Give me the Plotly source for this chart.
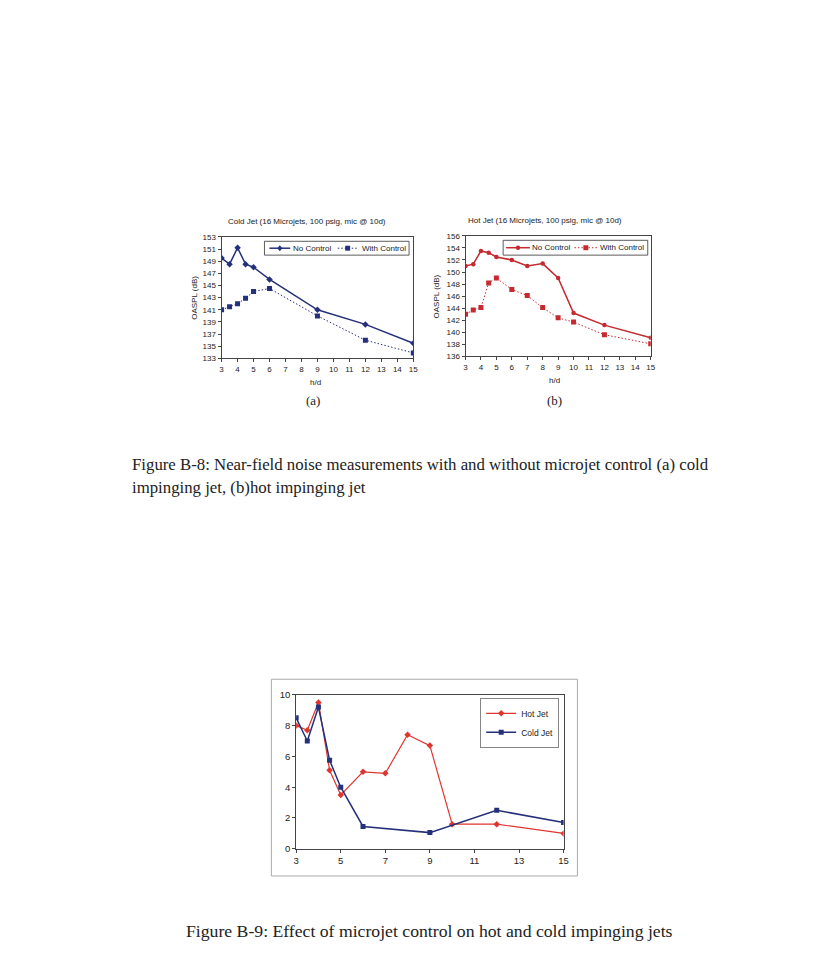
import plotly.graph_objects as go

W, H = 834, 966

# ---- data ----
hd_cold = [3, 3.5, 4, 4.5, 5, 6, 9, 12, 15]
cold_no_control = [149.5, 148.5, 151.2, 148.5, 148.0, 146.0, 141.0, 138.6, 135.5]
cold_with_control = [141.0, 141.5, 142.0, 142.9, 144.0, 144.5, 140.0, 136.0, 133.9]

hd_hot = [3, 3.5, 4, 4.5, 5, 6, 7, 8, 9, 10, 12, 15]
hot_no_control = [151.0, 151.3, 153.5, 153.2, 152.5, 152.0, 151.0, 151.4, 149.0, 143.2, 141.2, 139.1]
hot_with_control = [143.0, 143.7, 144.1, 148.2, 149.0, 147.1, 146.1, 144.1, 142.4, 141.7, 139.6, 138.1]

diff_hot = [8.0, 7.7, 9.5, 5.1, 3.5, 5.0, 4.9, 7.4, 6.7, 1.6, 1.6, 1.0]
diff_cold = [8.5, 7.0, 9.2, 5.75, 4.0, 1.45, 1.05, 2.5, 1.7]

yticks_a = list(range(133, 154, 2))
yticks_b = list(range(136, 157, 2))
xticks_ab = list(range(3, 16))
yticks_c = [0, 2, 4, 6, 8, 10]
xticks_c = [3, 5, 7, 9, 11, 13, 15]

NAVY = "#25307a"
RED = "#c42a2f"
HOTRED = "#e0352f"
DOTTED = "1.5px,2px"

def px(x):
    return x / W

def py(y):
    return 1 - y / H

fig = go.Figure()

# chart a
fig.add_trace(go.Scatter(x=hd_cold, y=cold_no_control, name="No Control", mode="lines+markers",
                         line=dict(color=NAVY, width=1.5), marker=dict(symbol="diamond", size=5, color=NAVY),
                         xaxis="x", yaxis="y", showlegend=False))
fig.add_trace(go.Scatter(x=hd_cold, y=cold_with_control, name="With Control", mode="lines+markers",
                         line=dict(color=NAVY, width=1, dash=DOTTED), marker=dict(symbol="square", size=5, color=NAVY),
                         xaxis="x", yaxis="y", showlegend=False))
# chart b
fig.add_trace(go.Scatter(x=hd_hot, y=hot_no_control, name="No Control", mode="lines+markers",
                         line=dict(color=RED, width=1.5), marker=dict(symbol="circle", size=4.5, color=RED),
                         xaxis="x2", yaxis="y2", showlegend=False))
fig.add_trace(go.Scatter(x=hd_hot, y=hot_with_control, name="With Control", mode="lines+markers",
                         line=dict(color=RED, width=1, dash=DOTTED), marker=dict(symbol="square", size=5, color=RED),
                         xaxis="x2", yaxis="y2", showlegend=False))
# chart c
fig.add_trace(go.Scatter(x=hd_hot, y=diff_hot, name="Hot Jet", mode="lines+markers",
                         line=dict(color=HOTRED, width=1.2), marker=dict(symbol="diamond", size=5, color=HOTRED),
                         xaxis="x3", yaxis="y3", legend="legend3"))
fig.add_trace(go.Scatter(x=hd_cold, y=diff_cold, name="Cold Jet", mode="lines+markers",
                         line=dict(color=NAVY, width=1.5), marker=dict(symbol="square", size=5, color=NAVY),
                         xaxis="x3", yaxis="y3", legend="legend3"))

tickfont_ab = dict(family="Liberation Sans, Arial", size=8, color="#222")
tickfont_c = dict(family="Liberation Sans, Arial", size=9.5, color="#222")

def ax(domain, rng, tickvals, font, anchor, lc="#444"):
    return dict(domain=domain, range=rng, tickvals=tickvals, tickfont=font, anchor=anchor,
                showgrid=False, zeroline=False, showline=True, linecolor=lc, linewidth=1,
                mirror=True, ticks="outside", ticklen=3, tickcolor=lc, fixedrange=True)

fig.update_layout(
    width=W, height=H, margin=dict(l=0, r=0, t=0, b=0),
    paper_bgcolor="white", plot_bgcolor="white",
    xaxis=ax([px(220.7), px(414.3)], [3, 15], xticks_ab, tickfont_ab, "y"),
    yaxis=ax([py(356.5), py(233.5)], [133, 153], yticks_a, tickfont_ab, "x"),
    xaxis2=ax([px(467), px(654)], [3, 15], xticks_ab, tickfont_ab, "y2"),
    yaxis2=ax([py(354.5), py(232.5)], [136, 156], yticks_b, tickfont_ab, "x2"),
    xaxis3=ax([px(296), px(566)], [3, 15], xticks_c, tickfont_c, "y3"),
    yaxis3=ax([py(852.5), py(696.7)], [0, 10], yticks_c, tickfont_c, "x3"),
    legend3=dict(x=px(482), y=py(700), xanchor="left", yanchor="top", orientation="v",
                 bordercolor="#666", borderwidth=0.8, bgcolor="white",
                 font=dict(family="Liberation Sans, Arial", size=8.5, color="#222"),
                 itemwidth=30, tracegroupgap=0),
    showlegend=True,
)

ann_font = dict(family="Liberation Sans, Arial", size=8, color="#222")
leg_font = dict(family="Liberation Sans, Arial", size=8, color="#222")
annots = [
    dict(x=px(307), y=py(218), text="Cold Jet (16 Microjets, 100 psig, mic @ 10d)", font=ann_font),
    dict(x=px(547), y=py(217), text="Hot Jet (16 Microjets, 100 psig, mic @ 10d)", font=ann_font),
    dict(x=px(194), y=py(295), text="OASPL (dB)", font=ann_font, textangle=-90),
    dict(x=px(438), y=py(294), text="OASPL (dB)", font=ann_font, textangle=-90),
    dict(x=px(316), y=py(381), text="h/d", font=ann_font),
    dict(x=px(557), y=py(379), text="h/d", font=ann_font),
    dict(x=px(313), y=py(399), text="(a)", font=dict(family="Liberation Serif", size=13, color="#222")),
    dict(x=px(557), y=py(399), text="(b)", font=dict(family="Liberation Serif", size=13, color="#222")),
    dict(x=px(128), y=py(464), text="Figure B-8: Near-field noise measurements with and without microjet control (a) cold",
         font=dict(family="Liberation Serif, Times New Roman", size=16.8, color="#222"), xanchor="left"),
    dict(x=px(128), y=py(487), text="impinging jet, (b)hot impinging jet",
         font=dict(family="Liberation Serif, Times New Roman", size=16.8, color="#222"), xanchor="left"),
    dict(x=px(183), y=py(936), text="Figure B-9: Effect of microjet control on hot and cold impinging jets",
         font=dict(family="Liberation Serif, Times New Roman", size=17.7, color="#222"), xanchor="left"),
]

shapes = []

def legend_box(x0, x1, y0, y1, color, entries, marker_shapes):
    """Compact Excel-style legend box (layout decoration) in pixel positions."""
    shapes.append(dict(type="rect", xref="paper", yref="paper", x0=px(x0), x1=px(x1), y0=py(y1), y1=py(y0),
                       line=dict(color="#333", width=0.8), fillcolor="white", layer="above"))
    yc = (y0 + y1) / 2
    for (sx0, sx1, dash, label_x, label), msym in zip(entries, marker_shapes):
        shapes.append(dict(type="line", xref="paper", yref="paper", x0=px(sx0), x1=px(sx1), y0=py(yc), y1=py(yc),
                           line=dict(color=color, width=1.5 if dash == "solid" else 1, dash=dash), layer="above"))
        mx = (sx0 + sx1) / 2
        r = 2.5
        if msym == "diamond":
            path = f"M {px(mx)},{py(yc - r - 0.5)} L {px(mx + r)},{py(yc)} L {px(mx)},{py(yc + r + 0.5)} L {px(mx - r)},{py(yc)} Z"
        elif msym == "circle":
            shapes.append(dict(type="circle", xref="paper", yref="paper", x0=px(mx - 2.2), x1=px(mx + 2.2),
                               y0=py(yc + 2.2), y1=py(yc - 2.2), fillcolor=color, line=dict(width=0, color=color),
                               layer="above"))
            path = None
        else:
            path = f"M {px(mx - r)},{py(yc - r)} L {px(mx + r)},{py(yc - r)} L {px(mx + r)},{py(yc + r)} L {px(mx - r)},{py(yc + r)} Z"
        if path:
            shapes.append(dict(type="path", xref="paper", yref="paper", path=path, fillcolor=color,
                               line=dict(width=0, color=color), layer="above"))
        annots.append(dict(x=px(label_x), y=py(yc), text=label, font=leg_font, xanchor="left"))

legend_box(264, 410, 238, 252, NAVY,
           [(269, 290, "solid", 291, "No Control"), (338, 358, DOTTED, 360, "With Control")],
           ["diamond", "square"])
legend_box(505, 651, 237, 252, RED,
           [(508, 532, "solid", 532, "No Control"), (577, 600, DOTTED, 601, "With Control")],
           ["circle", "square"])

for a in annots:
    a.setdefault("xanchor", "center")
    a.update(xref="paper", yref="paper", showarrow=False, yanchor="middle")

# outer chart frame for figure B-9
shapes.append(dict(type="rect", xref="paper", yref="paper", x0=px(271), x1=px(580), y0=py(880), y1=py(681),
                   line=dict(color="#aaa", width=1), layer="below"))

fig.update_layout(annotations=annots, shapes=shapes)

fig.write_html("out.html")
